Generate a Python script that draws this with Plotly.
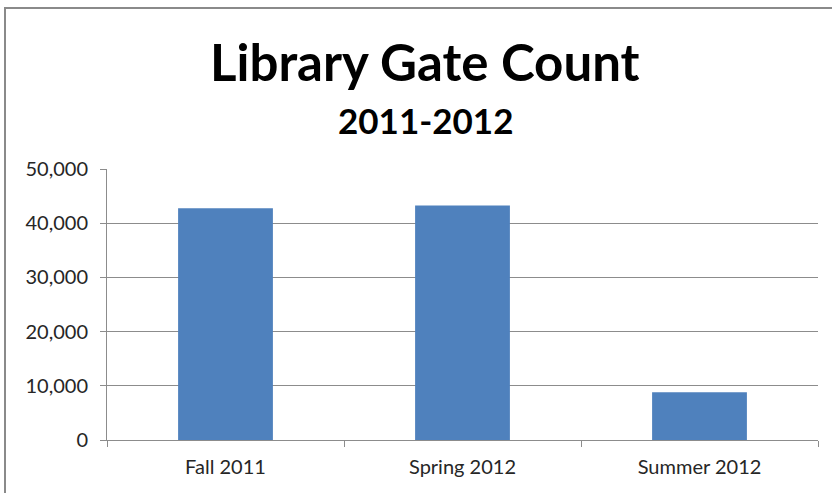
import plotly.graph_objects as go

categories = ["Fall 2011", "Spring 2012", "Summer 2012"]
gate_counts = [42750, 43250, 8800]
y_ticks = [0, 10000, 20000, 30000, 40000, 50000]
y_tick_labels = ["0", "10,000", "20,000", "30,000", "40,000", "50,000"]

W, H = 832, 493
L, R, T, B = 107, 14, 169, 53
pw, ph = W - L - R, H - T - B

def px_x(px):
    return (px - L) / pw

def px_y(py):
    return (H - B - py) / ph

FONT = "Lato"
GRID = "#8c8c8c"

fig = go.Figure(go.Bar(
    x=categories, y=gate_counts,
    marker=dict(color="#4F81BD", line=dict(width=0)),
    hoverinfo="x+y",
))

fig.update_layout(
    width=W, height=H,
    margin=dict(l=L, r=R, t=T, b=B),
    paper_bgcolor="white", plot_bgcolor="white",
    bargap=0.6,
    showlegend=False,
    font=dict(family=FONT, color="#262626"),
    xaxis=dict(
        type="category", showgrid=False, showline=True, linecolor=GRID, linewidth=1,
        ticks="outside", tickson="boundaries", ticklen=6, tickcolor=GRID,
        ticklabelstandoff=9,
        tickfont=dict(family=FONT, size=20, color="#262626"),
    ),
    yaxis=dict(
        range=[0, 50000], tickvals=y_ticks, ticktext=y_tick_labels,
        showgrid=True, gridcolor=GRID, gridwidth=1,
        showline=True, linecolor=GRID, linewidth=1,
        ticks="outside", ticklen=6, tickcolor=GRID, zeroline=False,
        ticklabelstandoff=8,
        tickfont=dict(family=FONT, size=20, color="#262626"),
    ),
    annotations=[
        dict(text="<b>Library Gate Count</b>", xref="paper", yref="paper",
             x=px_x(425), y=px_y(61), xanchor="center", yanchor="middle",
             showarrow=False, font=dict(family=FONT, size=51, color="black")),
        dict(text="<b>2011-2012</b>", xref="paper", yref="paper",
             x=px_x(425), y=px_y(120), xanchor="center", yanchor="middle",
             showarrow=False, font=dict(family=FONT, size=35, color="black")),
    ],
    shapes=[
        dict(type="line", xref="paper", yref="paper",
             x0=px_x(4), x1=px_x(840), y0=px_y(8), y1=px_y(8),
             line=dict(color="#8a8a8a", width=2)),
        dict(type="line", xref="paper", yref="paper",
             x0=px_x(5), x1=px_x(5), y0=px_y(7), y1=px_y(500),
             line=dict(color="#8a8a8a", width=2)),
    ],
)

fig.write_html("out.html")
